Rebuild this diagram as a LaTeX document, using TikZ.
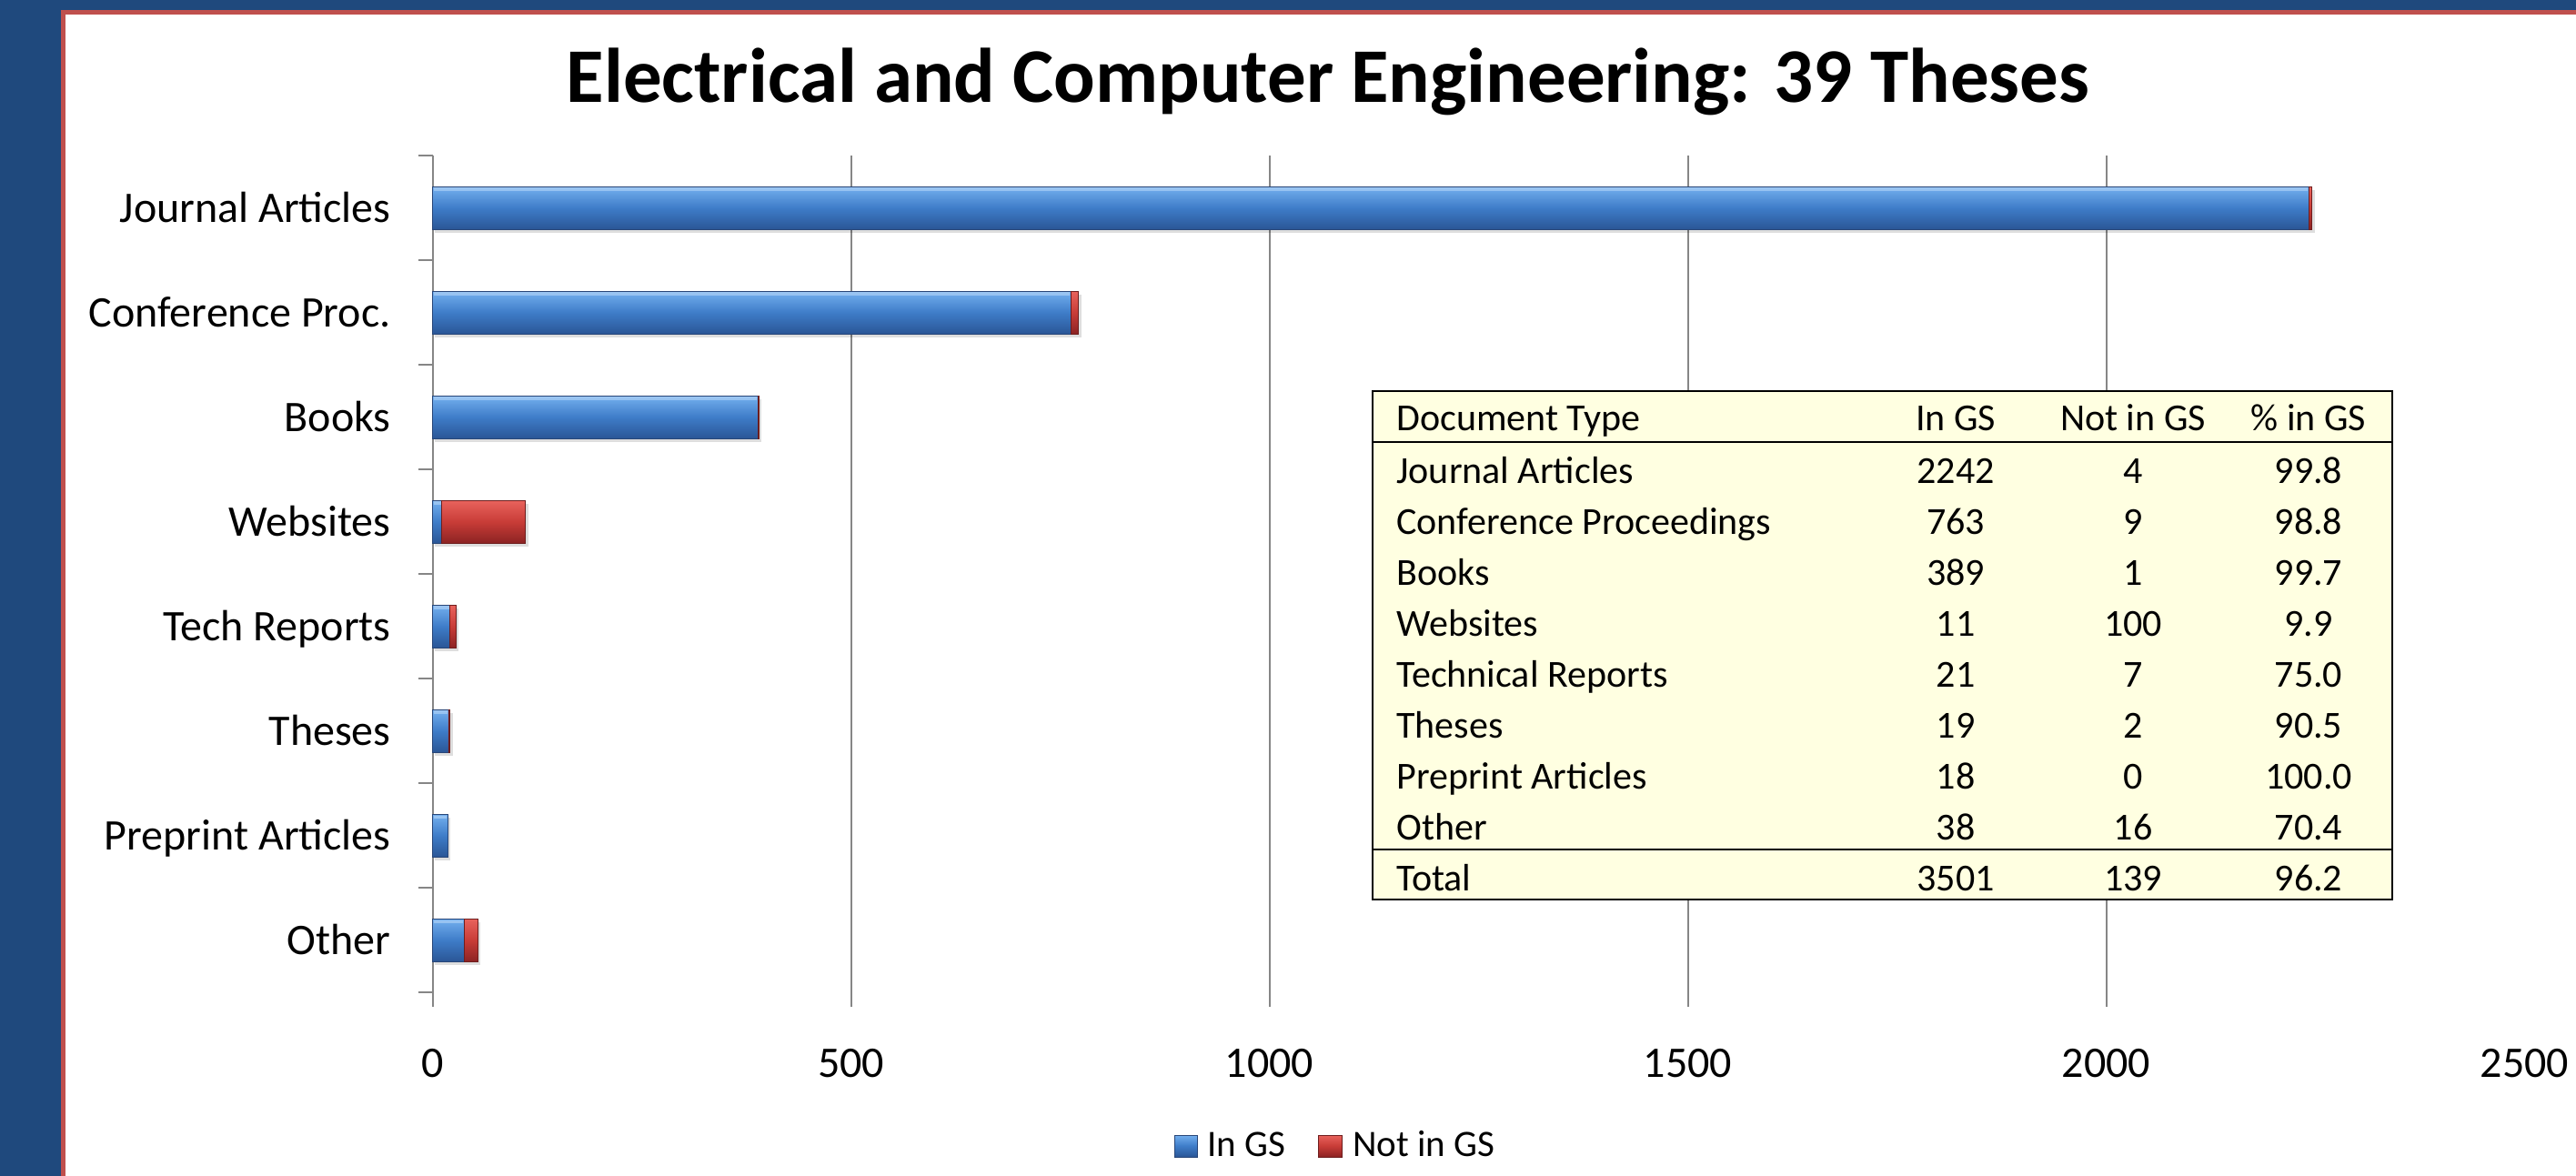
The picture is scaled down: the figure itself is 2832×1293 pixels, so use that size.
\documentclass[tikz,border=0pt]{standalone}
\usepackage{fontspec}
\setmainfont{Carlito}
\definecolor{bgblue}{RGB}{31,73,125}
\definecolor{bordred}{RGB}{192,80,77}
\definecolor{gridgray}{RGB}{134,134,134}
\definecolor{tabfill}{RGB}{255,255,225}
\definecolor{bluehi}{RGB}{115,175,238}
\definecolor{bluemid}{RGB}{62,124,200}
\definecolor{bluelo}{RGB}{42,86,150}
\definecolor{blueedge}{RGB}{40,70,120}
\definecolor{redhi}{RGB}{232,98,92}
\definecolor{redmid}{RGB}{200,60,55}
\definecolor{redlo}{RGB}{140,35,35}
\definecolor{rededge}{RGB}{110,30,30}
\tikzset{
  grid line/.style={draw=gridgray, line width=1pt},
  cat label/.style={font=\fontsize{24}{28}\selectfont, anchor=base east, inner sep=0pt},
  val label/.style={font=\fontsize{24}{28}\selectfont, anchor=base, inner sep=0pt},
  tab text/.style={font=\fontsize{21}{25}\selectfont, anchor=base, inner sep=0pt},
  tab left/.style={tab text, anchor=base west},
  leg text/.style={font=\fontsize{20.5}{24}\selectfont, anchor=base west, inner sep=0pt},
  blue bar/.style={top color=bluehi, bottom color=bluelo, middle color=bluemid, draw=blueedge, line width=0.4pt},
  red bar/.style={top color=redhi, bottom color=redlo, middle color=redmid, draw=rededge, line width=0.4pt},
  blue shine/.style={fill=bluehi!60!white, fill opacity=0.7},
  red shine/.style={fill=redhi!60!white, fill opacity=0.5},
  bar shadow/.style={fill=black, fill opacity=0.13},
}
\newcommand\gsbarpair[3]{%
  \pgfmathsetmacro\xa{475.5+0.92*#2}%
  \pgfmathsetmacro\xb{\xa+0.92*#3}%
  \fill[bar shadow] (477.5,#1-20) rectangle (\xb+3,#1+27.5);
  \shade[blue bar] (475.5,#1-23.3) rectangle (\xa,#1+23.3);
  \fill[blue shine] (476.5,#1-22.3) rectangle (\xa-1,#1-18.5);
  \ifdim #3pt>0pt
    \shade[red bar] (\xa,#1-23.3) rectangle (\xb,#1+23.3);
  \fi
}
\begin{document}
\begin{tikzpicture}[x=0.5pt,y=-0.5pt]
\useasboundingbox (0,0) rectangle (2832,1293);
% background frame
\fill[bgblue] (0,0) rectangle (2832,1293);
\fill[bordred] (67,11) rectangle (2832,1293);
\fill[white] (72,16) rectangle (2832,1293);
% title
\node[font=\fontsize{42.5}{48}\selectfont\bfseries, anchor=base, inner sep=0pt] (title) at (1460,113) {Electrical and Computer Engineering: 39 Theses};
% gridlines and value axis
\foreach \k in {0,1,2,3,4} {
  \draw[grid line] (475.5+460*\k,171.3) -- (475.5+460*\k,1107);
}
% category ticks
\foreach \k in {0,...,8} {
  \draw[grid line] (460,171.3+115*\k) -- (475.5,171.3+115*\k);
}
% bars
\gsbarpair{228.8}{2242}{4}
\gsbarpair{343.8}{763}{9}
\gsbarpair{458.8}{389}{1}
\gsbarpair{573.8}{11}{100}
\gsbarpair{688.8}{21}{7}
\gsbarpair{803.8}{19}{2}
\gsbarpair{918.8}{18}{0}
\gsbarpair{1033.8}{38}{16}
% category labels
\node[cat label] (c1) at (430,244.2) {Journal Articles};
\node[cat label] (c2) at (430,359.2) {Conference Proc.};
\node[cat label] (c3) at (430,474.2) {Books};
\node[cat label] (c4) at (430,589.2) {Websites};
\node[cat label] (c5) at (430,704.2) {Tech Reports};
\node[cat label] (c6) at (430,819.2) {Theses};
\node[cat label] (c7) at (430,934.2) {Preprint Articles};
\node[cat label] (c8) at (430,1049.2) {Other};
% value labels
\node[val label] (v0) at (475.5,1184) {0};
\node[val label] (v1) at (935.5,1184) {500};
\node[val label] (v2) at (1395.5,1184) {1000};
\node[val label] (v3) at (1855.5,1184) {1500};
\node[val label] (v4) at (2315.5,1184) {2000};
\node[val label] (v5) at (2775.5,1184) {2500};
% table
\draw[fill=tabfill, line width=1.2pt] (1509,430) rectangle (2630,989);
\draw[line width=1.2pt] (1509,486) -- (2630,486);
\draw[line width=1.2pt] (1509,934) -- (2630,934);
\node[tab left] (h0) at (1535,474) {Document Type};
\node[tab text] (h1) at (2150,474) {In GS};
\node[tab text] (h2) at (2345,474) {Not in GS};
\node[tab text] (h3) at (2538,474) {\% in GS};
\foreach \nm/\a/\b/\p [count=\j from 0] in {Journal Articles/2242/4/99.8, Conference Proceedings/763/9/98.8, Books/389/1/99.7, Websites/11/100/9.9, Technical Reports/21/7/75.0, Theses/19/2/90.5, Preprint Articles/18/0/100.0, Other/38/16/70.4, Total/3501/139/96.2} {
  \node[tab left] (r\j a) at (1535,531.5+56.06*\j) {\nm};
  \node[tab text] (r\j b) at (2150,531.5+56.06*\j) {\a};
  \node[tab text] (r\j c) at (2345,531.5+56.06*\j) {\b};
  \node[tab text] (r\j d) at (2538,531.5+56.06*\j) {\p};
}
% legend
\shade[blue bar] (1291,1248) rectangle (1316,1272);
\node[leg text] (l1) at (1327,1271.7) {In GS};
\shade[red bar] (1449,1248) rectangle (1475,1272);
\node[leg text] (l2) at (1487,1271.7) {Not in GS};
\end{tikzpicture}
\end{document}
